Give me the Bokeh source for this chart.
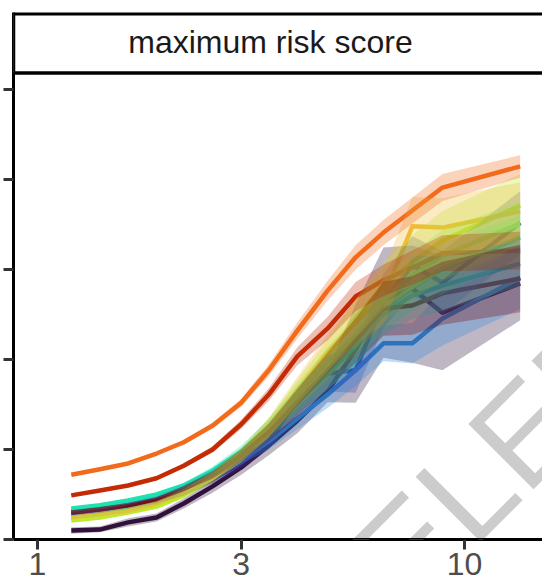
import math
from bokeh.plotting import figure
from bokeh.models import Range1d, FixedTicker, Label, BoxAnnotation, Span
from bokeh.embed import file_html
from bokeh.resources import INLINE

# ---------------- data ----------------
x_vals = [1.2, 1.4, 1.63, 1.9, 2.2, 2.57, 3.0, 3.48, 4.06, 4.78, 5.56, 6.46, 7.55, 8.88, 13.5]
x_ticks = [1, 3, 10]
x_tick_labels = ["1", "3", "10"]
y_ticks = [0, 20, 40, 60, 80, 100]
panel_title = "maximum risk score"
watermark = "CANCELED"

group_names = ["g01", "g02", "g03", "g04", "g05", "g06", "g07", "g08", "g09", "g10", "g11"]
group_colors = ["#30123B", "#4040A8", "#2B90E0", "#1BCFD4", "#1FE3AE", "#6CF05E",
                "#BCEB30", "#EDBE3A", "#F26A1B", "#C52B05", "#7A0403"]

g01_y = [2.0, 2.2, 3.8, 4.9, 8.0, 11.8, 16.0, 20.9, 26.4, 32.9, 42.2, 53.3, 55.8, 50.4, 56.9]
g01_dn = [0.7, 0.6, 0.9, 0.9, 1.1, 1.4, 1.6, 2.2, 2.8, 2.4, 11.8, 12.9, 16.5, 12.8, 8.2]
g01_up = [0.7, 0.7, 0.9, 0.9, 1.1, 1.3, 1.8, 2.4, 3.4, 4.7, 10.0, 11.6, 9.5, 12.7, 8.4]

g02_y = [5.6, 6.2, 7.1, 8.4, 10.4, 13.3, 17.1, 22.0, 30.9, 36.9, 37.6, 53.1, 60.9, 57.1, 70.4]
g02_sd = [0.3, 0.3, 0.3, 0.4, 0.6, 0.9, 1.3, 2.0, 3.0, 4.0, 5.0, 6.0, 6.5, 7.0, 7.0]

g03_y = [6.0, 6.7, 7.8, 9.3, 11.6, 14.4, 18.0, 21.8, 26.9, 32.2, 37.6, 43.6, 43.6, 49.1, 58.2]
g03_sd = [0.3, 0.3, 0.3, 0.4, 0.6, 0.9, 1.3, 1.8, 2.4, 3.0, 3.5, 4.0, 4.5, 6.0, 7.0]

g04_y = [6.4, 7.1, 8.2, 9.6, 11.6, 14.9, 18.9, 24.2, 30.7, 37.1, 43.1, 50.2, 54.2, 56.4, 61.3]
g04_sd = [0.3, 0.3, 0.3, 0.4, 0.6, 0.9, 1.3, 2.0, 2.8, 3.5, 4.2, 4.8, 5.2, 5.6, 5.0]

g05_y = [6.9, 7.6, 8.7, 10.0, 12.0, 15.3, 19.6, 24.7, 30.9, 36.9, 43.1, 51.3, 56.0, 60.2, 67.1]
g05_sd = [0.3, 0.3, 0.3, 0.4, 0.6, 0.9, 1.3, 2.0, 2.8, 3.5, 4.2, 4.8, 5.2, 5.6, 5.0]

g06_y = [4.9, 5.6, 6.7, 8.2, 10.7, 14.2, 19.1, 24.9, 32.0, 39.3, 45.3, 53.1, 58.7, 63.1, 70.2]
g06_sd = [0.3, 0.3, 0.3, 0.4, 0.6, 0.9, 1.3, 2.0, 2.8, 3.5, 4.2, 4.8, 5.2, 5.6, 5.0]

g07_y = [4.2, 4.9, 6.0, 7.3, 9.8, 13.6, 18.4, 24.7, 32.7, 40.9, 49.1, 56.4, 61.6, 66.4, 74.2]
g07_sd = [0.3, 0.3, 0.3, 0.4, 0.6, 0.9, 1.3, 2.0, 2.8, 3.6, 4.4, 5.2, 6.0, 6.6, 7.0]

g08_y = [4.9, 5.6, 6.4, 8.0, 10.4, 14.0, 18.7, 24.9, 33.1, 41.6, 48.2, 53.8, 69.6, 69.3, 72.9]
g08_sd = [0.3, 0.3, 0.4, 0.5, 0.7, 1.0, 1.5, 2.2, 3.0, 4.0, 5.0, 6.0, 6.5, 6.5, 6.5]

g09_y = [14.4, 15.6, 16.9, 19.1, 21.6, 25.3, 30.4, 37.6, 46.4, 55.3, 62.7, 68.2, 73.1, 78.2, 82.9]
g09_sd = [0.3, 0.3, 0.4, 0.4, 0.5, 0.7, 0.9, 1.3, 1.8, 2.2, 2.7, 2.8, 2.9, 3.0, 2.5]

g10_y = [9.8, 10.9, 12.0, 13.6, 16.4, 20.0, 25.6, 32.2, 40.7, 46.9, 54.0, 57.6, 60.4, 63.6, 64.2]
g10_sd = [0.3, 0.3, 0.3, 0.4, 0.5, 0.7, 1.0, 1.4, 2.0, 2.6, 3.2, 3.5, 3.8, 4.0, 4.2]

g11_y = [6.0, 6.7, 7.6, 8.9, 11.3, 14.4, 18.7, 23.8, 30.4, 37.6, 44.2, 51.3, 52.0, 54.7, 58.0]
g11_sd = [0.3, 0.3, 0.3, 0.4, 0.6, 0.9, 1.3, 2.0, 3.0, 4.0, 5.0, 6.0, 6.5, 7.0, 7.5]

series = [
    (g01_y, g01_dn, g01_up),
    (g02_y, g02_sd, g02_sd),
    (g03_y, g03_sd, g03_sd),
    (g04_y, g04_sd, g04_sd),
    (g05_y, g05_sd, g05_sd),
    (g06_y, g06_sd, g06_sd),
    (g07_y, g07_sd, g07_sd),
    (g08_y, g08_sd, g08_sd),
    (g09_y, g09_sd, g09_sd),
    (g10_y, g10_sd, g10_sd),
    (g11_y, g11_sd, g11_sd),
]

# ---------------- figure ----------------
W, H = 542, 588
p = figure(width=W, height=H, x_axis_type="log", output_backend="svg", toolbar_location=None,
           x_range=Range1d(0.8786, 15.229), y_range=Range1d(0, 117.1),
           min_border_left=13, min_border_right=0, min_border_top=12, min_border_bottom=49)
p.background_fill_color = "white"
p.border_fill_color = "white"
p.outline_line_color = None
p.grid.visible = False

FONT = "Liberation Sans"

# lines first
for (yv, dn, up), col in zip(series, group_colors):
    p.line(x_vals, yv, line_color=col, line_width=4.5, line_alpha=1.0, line_join="round")

# ribbons on top
for (yv, dn, up), col in zip(series, group_colors):
    lo = [a - b for a, b in zip(yv, dn)]
    hi = [a + b for a, b in zip(yv, up)]
    p.varea(x=x_vals, y1=lo, y2=hi, fill_color=col, fill_alpha=0.3)

# watermark, placed in canvas units
p.add_layout(Label(x=108, y=848, x_units="canvas", y_units="canvas",
                   text=watermark, angle=math.pi / 4,
                   text_font=FONT, text_font_size="134px", text_color="#cccccc",
                   text_align="left", text_baseline="alphabetic", level="overlay"))
# redraw the x axis line over the watermark
p.add_layout(Span(location=0, dimension="width", line_color="black", line_width=3,
                  level="overlay"))

# axes
xa = p.xaxis[0]
xa.ticker = FixedTicker(ticks=x_ticks, minor_ticks=[])
xa.major_label_overrides = {t: s for t, s in zip(x_ticks, x_tick_labels)}
xa.axis_line_color = "black"
xa.axis_line_width = 3
xa.major_tick_line_color = "#333333"
xa.major_tick_line_width = 3
xa.major_tick_out = 10
xa.major_tick_in = 0
xa.minor_tick_out = 0
xa.minor_tick_in = 0
xa.major_label_text_font = FONT
xa.major_label_text_font_size = "32px"
xa.major_label_text_color = "#4d4d4d"
xa.major_label_standoff = 3

ya = p.yaxis[0]
ya.ticker = FixedTicker(ticks=y_ticks, minor_ticks=[])
ya.major_label_overrides = {t: "" for t in y_ticks}
ya.major_label_text_font_size = "0px"
ya.major_label_standoff = 0
ya.axis_line_color = "black"
ya.axis_line_width = 3
ya.major_tick_line_color = "#333333"
ya.major_tick_line_width = 3
ya.major_tick_out = 10
ya.major_tick_in = 0
ya.minor_tick_out = 0
ya.minor_tick_in = 0

# facet strip
p.add_layout(BoxAnnotation(left=0.8786, right=25, bottom=103.67, top=116.8,
                           fill_color="white", fill_alpha=1.0,
                           line_color="black", line_alpha=1.0, line_width=3.5, level="overlay"))
p.add_layout(Label(x=3.513, y=110.5, text=panel_title, text_font=FONT,
                   text_font_size="32px", text_color="#1a1a1a",
                   text_align="center", text_baseline="middle", level="overlay"))

open("out.html", "w").write(file_html(p, INLINE))
